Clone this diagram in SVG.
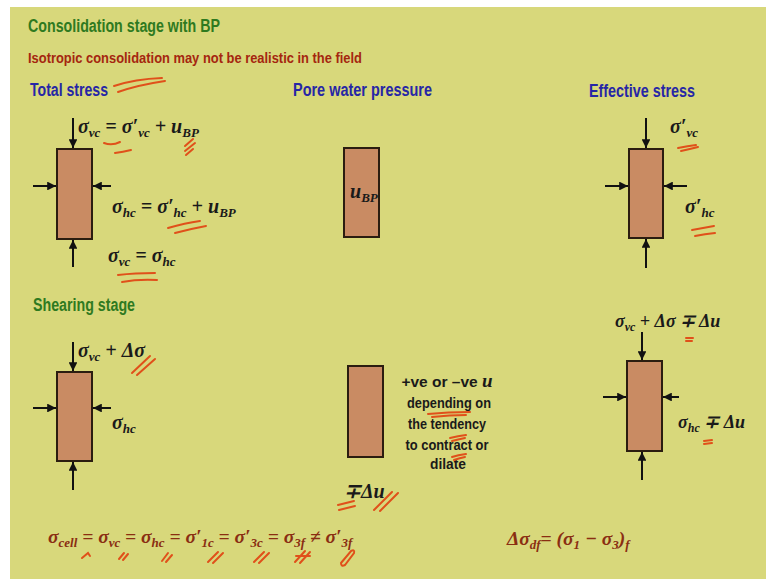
<svg xmlns="http://www.w3.org/2000/svg" width="766" height="579" viewBox="0 0 766 579">
<defs>
<marker id="ah" viewBox="0 0 10 10" refX="10" refY="5" markerWidth="4.6" markerHeight="4.4" orient="auto" markerUnits="strokeWidth">
<path d="M0,0 L10,5 L0,10 z" fill="#111"/>
</marker>
<style>
.bg{fill:#d8d87b}
.box{fill:#c98b63;stroke:#2b1d10;stroke-width:2}
.arr{stroke:#111;stroke-width:2;fill:none;marker-end:url(#ah)}
.hd{font-family:"Liberation Sans",Arial,sans-serif;font-weight:bold}
.green{fill:#2f7a1f;font-size:18px}
.red{fill:#a5260f;font-size:15px}
.blue{fill:#2626a6;font-size:18px}
.eq{font-family:"Liberation Serif","Times New Roman",serif;font-weight:bold;font-style:italic;font-size:20px;fill:#1a1a1a}
.eqs{font-size:18px}
.beq{font-family:"Liberation Serif","Times New Roman",serif;font-weight:bold;font-style:italic;font-size:19.5px;fill:#8a2e12}
.sb{font-size:13px}
.sbs{font-size:12px}
.note{font-family:"Liberation Sans",Arial,sans-serif;font-weight:bold;font-size:15.5px;fill:#1a1a1a}
.mk{stroke:#e0501a;stroke-width:2;fill:none;stroke-linecap:round}
</style>
</defs>
<rect class="bg" x="10" y="7" width="756" height="572"/>

<g id="headings">
<text class="hd green" x="28" y="32" textLength="192" lengthAdjust="spacingAndGlyphs">Consolidation stage with BP</text>
<text class="hd red" x="28" y="63" textLength="334" lengthAdjust="spacingAndGlyphs">Isotropic consolidation may not be realistic in the field</text>
<text class="hd blue" x="30" y="96" textLength="78" lengthAdjust="spacingAndGlyphs">Total stress</text>
<text class="hd blue" x="293" y="96" textLength="139" lengthAdjust="spacingAndGlyphs">Pore water pressure</text>
<text class="hd blue" x="589" y="97" textLength="106" lengthAdjust="spacingAndGlyphs">Effective stress</text>
<text class="hd green" x="33" y="311" textLength="102" lengthAdjust="spacingAndGlyphs">Shearing stage</text>
</g>

<g id="total-stress">
<rect class="box" x="57" y="149" width="35" height="90"/>
<text class="eq" x="78" y="133">σ<tspan class="sb" dy="4">vc</tspan><tspan dy="-4"> = σ′</tspan><tspan class="sb" dy="4">vc</tspan><tspan dy="-4"> + u</tspan><tspan class="sb" dy="4">BP</tspan></text>
<text class="eq" x="112" y="213">σ<tspan class="sb" dy="4">hc</tspan><tspan dy="-4"> = σ′</tspan><tspan class="sb" dy="4">hc</tspan><tspan dy="-4"> + u</tspan><tspan class="sb" dy="4">BP</tspan></text>
<text class="eq" x="108" y="262">σ<tspan class="sb" dy="4">vc</tspan><tspan dy="-4"> = σ</tspan><tspan class="sb" dy="4">hc</tspan></text>
</g>

<g id="pore-water">
<rect class="box" x="344" y="148" width="35" height="89"/>
<text class="eq" x="350" y="198">u<tspan class="sb" dy="4">BP</tspan></text>
</g>

<g id="effective-stress">
<rect class="box" x="629" y="149" width="34" height="89"/>
<text class="eq" x="670" y="133">σ′<tspan class="sb" dy="4">vc</tspan></text>
<text class="eq" x="685" y="213">σ′<tspan class="sb" dy="4">hc</tspan></text>
</g>

<g id="shear-total">
<rect class="box" x="57" y="372" width="35" height="89"/>
<text class="eq" x="78" y="357">σ<tspan class="sb" dy="4">vc</tspan><tspan dy="-4"> + Δσ</tspan></text>
<text class="eq" x="112" y="429">σ<tspan class="sb" dy="4">hc</tspan></text>
</g>

<g id="shear-pore">
<rect class="box" x="348" y="366" width="35" height="91"/>
<text class="note" x="447" y="387" text-anchor="middle">+ve or –ve <tspan class="eq" style="font-size:19px">u</tspan></text>
<text class="note" x="449" y="408" text-anchor="middle" textLength="84" lengthAdjust="spacingAndGlyphs">depending on</text>
<text class="note" x="447" y="429" text-anchor="middle" textLength="78" lengthAdjust="spacingAndGlyphs">the tendency</text>
<text class="note" x="447" y="450" text-anchor="middle" textLength="83" lengthAdjust="spacingAndGlyphs">to contract or</text>
<text class="note" x="448" y="469" text-anchor="middle" textLength="36" lengthAdjust="spacingAndGlyphs">dilate</text>
<text class="eq" x="344" y="498">∓Δu</text>
</g>

<g id="shear-effective">
<rect class="box" x="627" y="361" width="35" height="90"/>
<text class="eq eqs" x="615" y="327">σ<tspan class="sbs" dy="4">vc</tspan><tspan dy="-4"> + Δσ ∓ Δu</tspan></text>
<text class="eq eqs" x="678" y="428">σ<tspan class="sbs" dy="4">hc</tspan><tspan dy="-4"> ∓ Δu</tspan></text>
</g>

<g id="summary">
<text class="beq" x="48" y="543">σ<tspan class="sb" dy="4">cell</tspan><tspan dy="-4"> = σ</tspan><tspan class="sb" dy="4">vc</tspan><tspan dy="-4"> = σ</tspan><tspan class="sb" dy="4">hc</tspan><tspan dy="-4"> = σ′</tspan><tspan class="sb" dy="4">1c</tspan><tspan dy="-4"> = σ′</tspan><tspan class="sb" dy="4">3c</tspan><tspan dy="-4"> = σ</tspan><tspan class="sb" dy="4">3f</tspan><tspan dy="-4"> ≠ σ′</tspan><tspan class="sb" dy="4">3f</tspan></text>
<text class="beq" x="507" y="545">Δσ<tspan class="sb" dy="4">df</tspan><tspan dy="-4">= (σ</tspan><tspan class="sb" dy="4">1</tspan><tspan dy="-4"> − σ</tspan><tspan class="sb" dy="4">3</tspan><tspan dy="-4">)</tspan><tspan class="sb" dy="4">f</tspan></text>
</g>

<g id="connectors">
<line class="arr" x1="73" y1="118" x2="73" y2="148"/>
<line class="arr" x1="73" y1="267" x2="73" y2="240"/>
<line class="arr" x1="33" y1="186" x2="56" y2="186"/>
<line class="arr" x1="111" y1="186" x2="93" y2="186"/>
<line class="arr" x1="646" y1="118" x2="646" y2="148"/>
<line class="arr" x1="646" y1="268" x2="646" y2="239"/>
<line class="arr" x1="605" y1="186" x2="628" y2="186"/>
<line class="arr" x1="687" y1="186" x2="664" y2="186"/>
<line class="arr" x1="73" y1="342" x2="73" y2="371"/>
<line class="arr" x1="73" y1="490" x2="73" y2="462"/>
<line class="arr" x1="33" y1="408" x2="56" y2="408"/>
<line class="arr" x1="111" y1="408" x2="93" y2="408"/>
<line class="arr" x1="642" y1="332" x2="642" y2="360"/>
<line class="arr" x1="642" y1="480" x2="642" y2="452"/>
<line class="arr" x1="603" y1="397" x2="626" y2="397"/>
<line class="arr" x1="679" y1="397" x2="663" y2="397"/>
</g>

<g id="annotations">
<path class="mk" d="M114,86 Q135,79 162,78 M118,92 Q138,85 165,81"/>
<path class="mk" d="M104,143 Q112,146 120,142 M115,153 Q123,152 131,150"/>
<path class="mk" d="M185,146 L193,139 M185,151 L195,143 M186,155 L193,149"/>
<path class="mk" d="M168,228 Q185,223 200,221 M175,233 Q190,229 206,226"/>
<path class="mk" d="M118,275 Q135,273 155,273 M122,282 Q138,279 157,280"/>
<path class="mk" d="M678,148 Q688,146 696,145 M681,151 Q690,149 698,147"/>
<path class="mk" d="M692,230 Q703,228 714,226 M695,236 Q705,234 715,233"/>
<path class="mk" d="M132,373 L150,356 M137,375 L155,359"/>
<path class="mk" d="M428,414 Q448,412 470,412 M432,417 Q450,415 466,415"/>
<path class="mk" d="M450,438 Q458,436 466,435 M452,441 Q460,439 465,438"/>
<path class="mk" d="M452,457 Q458,455 466,454 M454,460 Q460,458 465,457"/>
<path class="mk" d="M338,505 L354,501 M339,510 L355,506"/>
<path class="mk" d="M374,510 L392,492 M380,511 L398,493"/>
<path class="mk" d="M686,338 L693,338 M686,341 L692,341"/>
<path class="mk" d="M704,441 L712,440 M704,444 L712,443"/>
<path class="mk" d="M82,558 L88,553 L90,556"/>
<path class="mk" d="M119,559 L124,553 M123,560 L128,554"/>
<path class="mk" d="M162,561 L168,553 M166,562 L172,555"/>
<path class="mk" d="M208,562 L218,552 M213,563 L223,553"/>
<path class="mk" d="M254,562 L264,552 M259,563 L269,553"/>
<path class="mk" d="M295,562 L305,551 M300,563 L310,552 M296,556 L310,556"/>
<path class="mk" d="M341,563 L351,551 Q355,549 354,553 L345,565 Q341,567 341,563"/>
</g>
</svg>
